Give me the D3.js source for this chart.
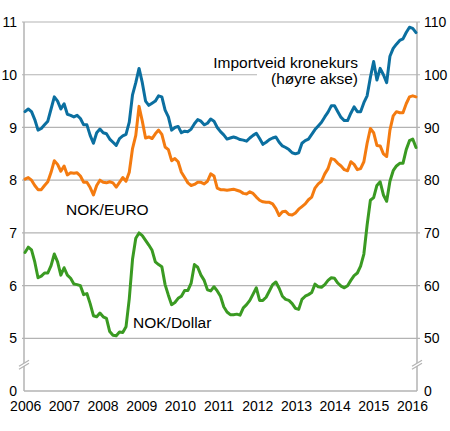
<!DOCTYPE html>
<html>
<head>
<meta charset="utf-8">
<script src="https://cdn.jsdelivr.net/npm/d3@7/dist/d3.min.js"></script>
<style>
  html, body { margin: 0; padding: 0; background: #fff; }
  svg { display: block; font-family: "Liberation Sans", Arial, sans-serif; }
</style>
</head>
<body>
<div id="chart"></div>
<script>
// ---- data (monthly, Jan 2006 .. Jan 2016) ----
const startYear = 2006;
const yearLabels = ["2006","2007","2008","2009","2010","2011","2012","2013","2014","2015","2016"];
const leftTicks = [0, 5, 6, 7, 8, 9, 10, 11];
const rightTicks = [0, 50, 60, 70, 80, 90, 100, 110];

// Importveid kronekurs (right axis, index)
const importIndex = [
  93.0,93.5,93.0,91.5,89.5,89.8,90.5,91.2,93.5,95.8,95.0,93.5,
  94.5,92.5,92.3,92.0,92.3,91.7,90.5,90.5,88.5,87.0,89.0,89.7,
  89.0,88.8,87.8,87.2,86.6,87.9,88.4,88.7,91.0,96.2,98.5,101.2,
  98.5,95.0,94.2,94.6,95.0,96.0,95.8,93.3,92.0,89.5,90.0,90.2,
  89.0,89.3,89.2,89.7,90.7,91.5,91.2,90.5,90.8,91.6,91.2,90.0,
  89.2,88.6,87.8,88.0,88.2,88.0,87.7,87.6,87.4,88.0,88.5,88.9,
  87.9,86.8,87.2,87.7,88.0,88.2,87.2,86.5,86.2,85.8,85.2,85.0,
  85.2,87.0,87.5,87.8,88.7,89.6,90.3,91.0,92.0,92.9,94.1,94.1,
  93.0,91.9,91.3,91.3,92.7,93.9,93.0,93.0,94.7,96.0,99.5,102.5,
  99.0,101.2,100.0,98.5,103.5,105.0,105.8,106.5,106.8,108.0,109.0,108.8,
  108.0
];
// NOK/EURO (left axis)
const nokEuro = [
  8.02,8.05,8.00,7.90,7.82,7.82,7.90,7.97,8.15,8.37,8.30,8.17,
  8.27,8.10,8.14,8.13,8.14,8.08,7.96,7.96,7.86,7.72,7.90,8.00,
  7.96,7.95,7.97,7.95,7.87,7.96,8.05,7.98,8.15,8.60,8.85,9.40,
  9.12,8.80,8.82,8.79,8.88,8.95,8.87,8.63,8.58,8.37,8.41,8.35,
  8.15,8.05,7.95,7.90,7.92,7.96,7.96,7.93,7.98,8.12,8.08,7.85,
  7.82,7.82,7.81,7.82,7.83,7.81,7.79,7.75,7.74,7.78,7.75,7.68,
  7.62,7.59,7.58,7.58,7.55,7.46,7.33,7.40,7.41,7.35,7.34,7.38,
  7.45,7.50,7.55,7.63,7.68,7.85,7.93,7.98,8.12,8.22,8.41,8.39,
  8.32,8.27,8.20,8.18,8.35,8.30,8.20,8.22,8.35,8.70,8.98,8.90,
  8.66,8.65,8.50,8.45,8.95,9.22,9.30,9.28,9.28,9.45,9.58,9.60,
  9.58
];
// NOK/Dollar (left axis)
const nokDollar = [
  6.63,6.73,6.68,6.45,6.15,6.18,6.24,6.24,6.38,6.60,6.45,6.20,
  6.34,6.20,6.14,6.03,6.02,6.00,5.83,5.85,5.66,5.43,5.41,5.48,
  5.41,5.38,5.13,5.06,5.05,5.12,5.11,5.22,5.75,6.50,6.90,7.00,
  6.95,6.86,6.77,6.67,6.45,6.40,6.36,6.02,5.82,5.64,5.68,5.76,
  5.80,5.91,5.91,6.05,6.40,6.35,6.20,6.10,5.92,5.90,5.98,5.90,
  5.80,5.60,5.50,5.45,5.45,5.46,5.44,5.58,5.64,5.72,5.84,5.96,
  5.72,5.72,5.78,5.90,6.02,6.07,5.95,5.80,5.74,5.72,5.66,5.57,
  5.55,5.74,5.80,5.83,5.87,6.03,5.98,5.97,6.02,6.10,6.15,6.14,
  6.05,5.99,5.96,6.00,6.10,6.19,6.24,6.37,6.60,7.15,7.62,7.67,
  7.90,7.97,7.72,7.60,7.98,8.18,8.27,8.32,8.32,8.58,8.75,8.78,
  8.62
];

const colors = { blue: "#0b6fa0", orange: "#f47b10", green: "#3a9a22" };
const gridColor = "#b3b3b3";

// ---- layout ----
const W = 450, H = 431;
const plot = { left: 24, right: 417, top: 22, bottom: 391 };

const svg = d3.select("#chart").append("svg").attr("width", W).attr("height", H);

const x = d3.scaleLinear().domain([0, importIndex.length - 1]).range([25, 416]);
const xYear = d3.scaleLinear().domain([startYear, startYear + yearLabels.length - 1]).range([25.7, 412.5]);
const yL = d3.scaleLinear().domain([0, 5, 11]).range([plot.bottom, 338.4, plot.top]);
const yR = d3.scaleLinear().domain([0, 50, 110]).range([plot.bottom, 338.4, plot.top]);

// gridlines
svg.append("g").selectAll("line").data(leftTicks.filter(d => d > 0)).join("line")
  .attr("x1", plot.left - 2).attr("x2", plot.right + 3)
  .attr("y1", d => yL(d)).attr("y2", d => yL(d))
  .attr("stroke", gridColor).attr("stroke-width", 1.2);

// white box behind annotation (interrupts gridline)
svg.append("rect").attr("x", 257).attr("y", 69).attr("width", 103).attr("height", 20).attr("fill", "#fff");

// axes lines
const axisG = svg.append("g").attr("stroke", gridColor).attr("stroke-width", 1.5);
axisG.append("line").attr("x1", plot.left).attr("x2", plot.left).attr("y1", plot.top).attr("y2", plot.bottom);
axisG.append("line").attr("x1", plot.right).attr("x2", plot.right).attr("y1", plot.top).attr("y2", plot.bottom);
axisG.append("line").attr("x1", plot.left).attr("x2", plot.right).attr("y1", plot.bottom).attr("y2", plot.bottom);

// axis break marks
const yBreak = (yL(0) + yL(5)) / 2;
[plot.left, plot.right].forEach(ax => {
  const g = svg.append("g");
  g.append("path").attr("d", `M${ax-5},${yBreak+4.5} L${ax+5},${yBreak-1.5} L${ax+5},${yBreak-4.5} L${ax-5},${yBreak+1.5}Z`).attr("fill", "#fff");
  [-1.5, 1.5].forEach(o => {
    g.append("line").attr("x1", ax - 5).attr("x2", ax + 5)
      .attr("y1", yBreak + 3 + o).attr("y2", yBreak - 3 + o)
      .attr("stroke", gridColor).attr("stroke-width", 1.2);
  });
});

// lines
const lineL = d3.line().x((d, i) => x(i)).y(d => yL(d));
const lineR = d3.line().x((d, i) => x(i)).y(d => yR(d));
function draw(path, color) {
  svg.append("path").attr("d", path).attr("fill", "none").attr("stroke", color)
    .attr("stroke-width", 3).attr("stroke-linejoin", "round").attr("stroke-linecap", "round");
}
draw(lineL(nokDollar), colors.green);
draw(lineL(nokEuro), colors.orange);
draw(lineR(importIndex), colors.blue);

// tick labels
const tickFont = 14;
svg.append("g").selectAll("text").data(leftTicks).join("text")
  .attr("x", 17).attr("y", d => yL(d)).attr("dy", "0.36em")
  .attr("text-anchor", "end").attr("font-size", tickFont).attr("fill", "#000")
  .text(d => d);
svg.append("g").selectAll("text").data(rightTicks).join("text")
  .attr("x", 424).attr("y", d => yR(d)).attr("dy", "0.36em")
  .attr("text-anchor", "start").attr("font-size", tickFont).attr("fill", "#000")
  .text(d => d);
svg.append("g").selectAll("text").data(yearLabels).join("text")
  .attr("x", (d, i) => xYear(startYear + i)).attr("y", 411)
  .attr("text-anchor", "middle").attr("font-size", tickFont).attr("fill", "#000")
  .text(d => d);

// annotations
const annFont = 15.5;
svg.append("text").attr("x", 358).attr("y", 68).attr("text-anchor", "end")
  .attr("font-size", annFont).text("Importveid kronekurs");
svg.append("text").attr("x", 358).attr("y", 84).attr("text-anchor", "end")
  .attr("font-size", annFont).text("(høyre akse)");
svg.append("text").attr("x", 66).attr("y", 215).attr("font-size", annFont).text("NOK/EURO");
svg.append("text").attr("x", 133).attr("y", 328).attr("font-size", annFont).text("NOK/Dollar");
</script>
</body>
</html>
